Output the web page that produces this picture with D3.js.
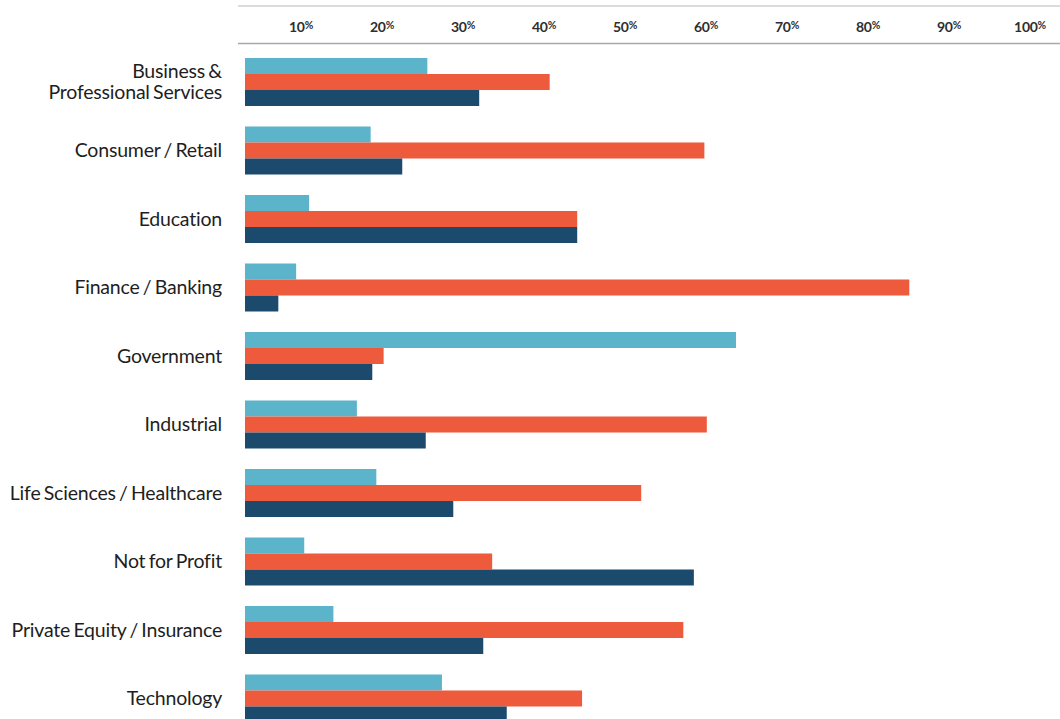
<!DOCTYPE html>
<html>
<head>
<meta charset="utf-8">
<script src="https://cdn.jsdelivr.net/npm/d3@7"></script>
<style>
  html, body { margin: 0; padding: 0; background: #fff; }
  svg { display: block; }
  text { font-family: Lato, "Open Sans", sans-serif; }
</style>
</head>
<body>
<svg id="chart" width="1060" height="719"></svg>
<script>
// Industry sectors, top to bottom
const categories = [
  "Business & Professional Services",
  "Consumer / Retail",
  "Education",
  "Finance / Banking",
  "Government",
  "Industrial",
  "Life Sciences / Healthcare",
  "Not for Profit",
  "Private Equity / Insurance",
  "Technology"
];

// Share of respondents (%) for each of the three series
const seriesA = [25.6, 18.6, 11.0, 9.4, 63.7, 16.9, 19.3, 10.4, 14.0, 27.4];
const seriesB = [40.7, 59.8, 44.1, 85.1, 20.2, 60.1, 52.0, 33.6, 57.2, 44.7];
const seriesC = [32.0, 22.5, 44.1, 7.2, 18.8, 25.4, 28.8, 58.5, 32.5, 35.4];

const seriesKeys = ["a", "b", "c"];
const seriesColors = ["#5bb4c9", "#ee5a3c", "#1b4a6c"];

const tickValues = [10, 20, 30, 40, 50, 60, 70, 80, 90, 100];

// Line breaks for long category names
const labelLines = {
  "Business & Professional Services": ["Business &", "Professional Services"]
};

const rows = categories.map((c, i) => ({
  category: c,
  a: seriesA[i],
  b: seriesB[i],
  c: seriesC[i]
}));

const svg = d3.select("#chart");

const plotLeft = 245;

const x = d3.scaleLinear().domain([0, 100]).range([220, 1030]);

const y = d3.scaleBand()
  .domain(categories)
  .range([58, 58 + 68.5 * categories.length])
  .paddingInner(0)
  .paddingOuter(0);

const groupHeight = 48;
const ySub = d3.scaleBand().domain(seriesKeys).range([0, groupHeight]).padding(0);
const color = d3.scaleOrdinal().domain(seriesKeys).range(seriesColors);

// Header rules framing the percentage scale
svg.append("line")
  .attr("x1", 238).attr("x2", 1060)
  .attr("y1", 6).attr("y2", 6)
  .attr("stroke", "#b9b9b9").attr("stroke-width", 1.2);
svg.append("line")
  .attr("x1", 238).attr("x2", 1060)
  .attr("y1", 43.5).attr("y2", 43.5)
  .attr("stroke", "#a8a8a8").attr("stroke-width", 1.6);

// Percentage labels
const ticks = svg.append("g").selectAll("text")
  .data(tickValues)
  .join("text")
  .attr("x", d => x(d))
  .attr("y", 32)
  .attr("text-anchor", "middle")
  .attr("fill", "#2e2e2e")
  .attr("font-size", 14)
  .attr("font-weight", 700)
  .attr("letter-spacing", -0.3);
ticks.append("tspan").text(d => d);
ticks.append("tspan")
  .attr("font-size", 10.5)
  .attr("dy", -3)
  .text("%");

// Bars
const groups = svg.append("g").selectAll("g")
  .data(rows)
  .join("g")
  .attr("transform", d => `translate(0,${y(d.category)})`);

groups.selectAll("rect")
  .data(d => seriesKeys.map(k => ({ key: k, value: d[k] })))
  .join("rect")
  .attr("x", plotLeft)
  .attr("y", d => ySub(d.key))
  .attr("width", d => Math.max(0, x(d.value) - plotLeft))
  .attr("height", ySub.bandwidth())
  .attr("fill", d => color(d.key));

// Category labels
const labels = svg.append("g").selectAll("text")
  .data(categories)
  .join("text")
  .attr("text-anchor", "end")
  .attr("fill", "#1e1e1e")
  .attr("font-size", 19.5)
  .attr("letter-spacing", -0.2)
  .attr("word-spacing", -1.5)
  .attr("transform", d => `translate(222,${y(d) + groupHeight / 2})`);

labels.each(function (d) {
  const lines = labelLines[d] || [d];
  const t = d3.select(this);
  const lh = 21;
  const start = -((lines.length - 1) * lh) / 2 + 6.5;
  lines.forEach((ln, i) => {
    t.append("tspan")
      .attr("x", 0)
      .attr("y", start + i * lh)
      .text(ln);
  });
});
</script>
</body>
</html>
